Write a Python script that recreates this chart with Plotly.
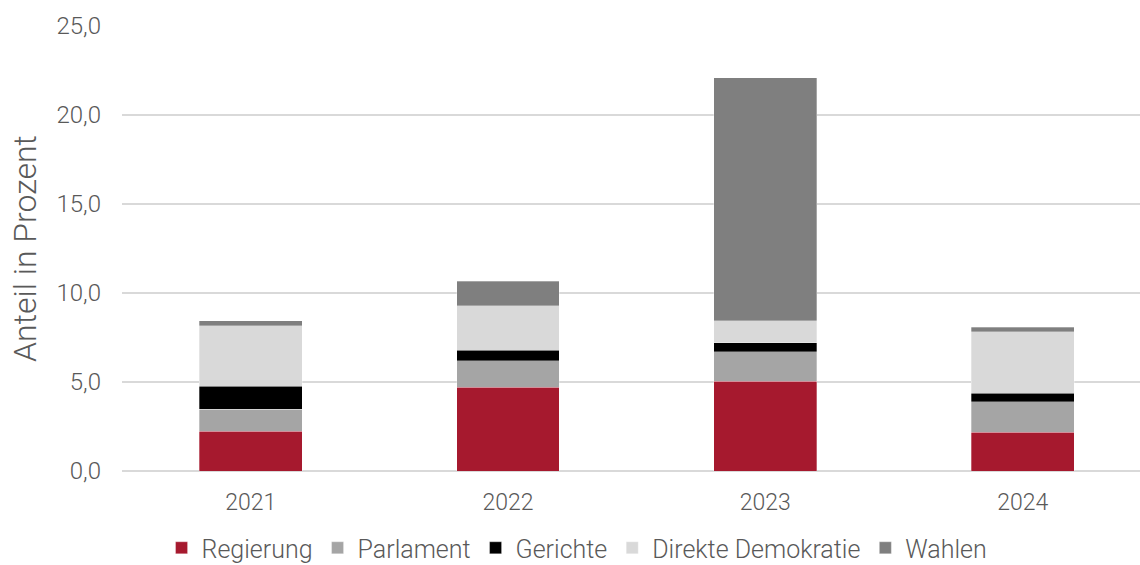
import plotly.graph_objects as go

years = ["2021", "2022", "2023", "2024"]
regierung = [2.22, 4.70, 5.03, 2.17]
parlament = [1.26, 1.50, 1.67, 1.71]
gerichte = [1.29, 0.58, 0.51, 0.48]
direkte_demokratie = [3.40, 2.49, 1.22, 3.45]
wahlen = [0.26, 1.38, 13.67, 0.26]

series = [
    ("Regierung", regierung, "#A6192E"),
    ("Parlament", parlament, "#A5A5A5"),
    ("Gerichte", gerichte, "#000000"),
    ("Direkte Demokratie", direkte_demokratie, "#D9D9D9"),
    ("Wahlen", wahlen, "#7F7F7F"),
]

text_color = "#595959"
font_family = "Roboto"

fig = go.Figure()
for name, values, color in series:
    fig.add_trace(go.Bar(
        x=years, y=values, name=name,
        marker=dict(color=color, line=dict(color="rgba(255,255,255,0.6)", width=0.5)),
        width=0.4,
    ))

fig.update_layout(
    barmode="stack",
    width=1140, height=565,
    margin=dict(l=122, r=0, t=26, b=94, autoexpand=False),
    paper_bgcolor="white", plot_bgcolor="white",
    separators=",.",
    font=dict(family=font_family, color=text_color, weight=300),
    xaxis=dict(
        range=[-0.5, 3.456],
        showgrid=False, showline=False, zeroline=False,
        tickfont=dict(size=23, color=text_color, family=font_family, weight=300),
        ticks="", ticklabelstandoff=15,
    ),
    yaxis=dict(
        range=[0, 25], dtick=5, tickformat=".1f",
        showgrid=True, gridcolor="#D9D9D9", gridwidth=1.5,
        zeroline=True, zerolinecolor="#D9D9D9", zerolinewidth=1.5,
        showline=False, ticks="",
        tickfont=dict(size=24, color=text_color, family=font_family, weight=300),
        ticklabelstandoff=20,
        title=dict(text="Anteil in Prozent", standoff=10,
                   font=dict(size=32, color=text_color, family=font_family, weight=300)),
    ),
    legend=dict(
        orientation="h", x=0.447, xanchor="center",
        yref="container", y=0.03, yanchor="middle",
        font=dict(size=25, color=text_color, family=font_family, weight=300),
        traceorder="normal", itemwidth=30,
        bgcolor="rgba(0,0,0,0)",
    ),
)

fig.write_html("out.html")
